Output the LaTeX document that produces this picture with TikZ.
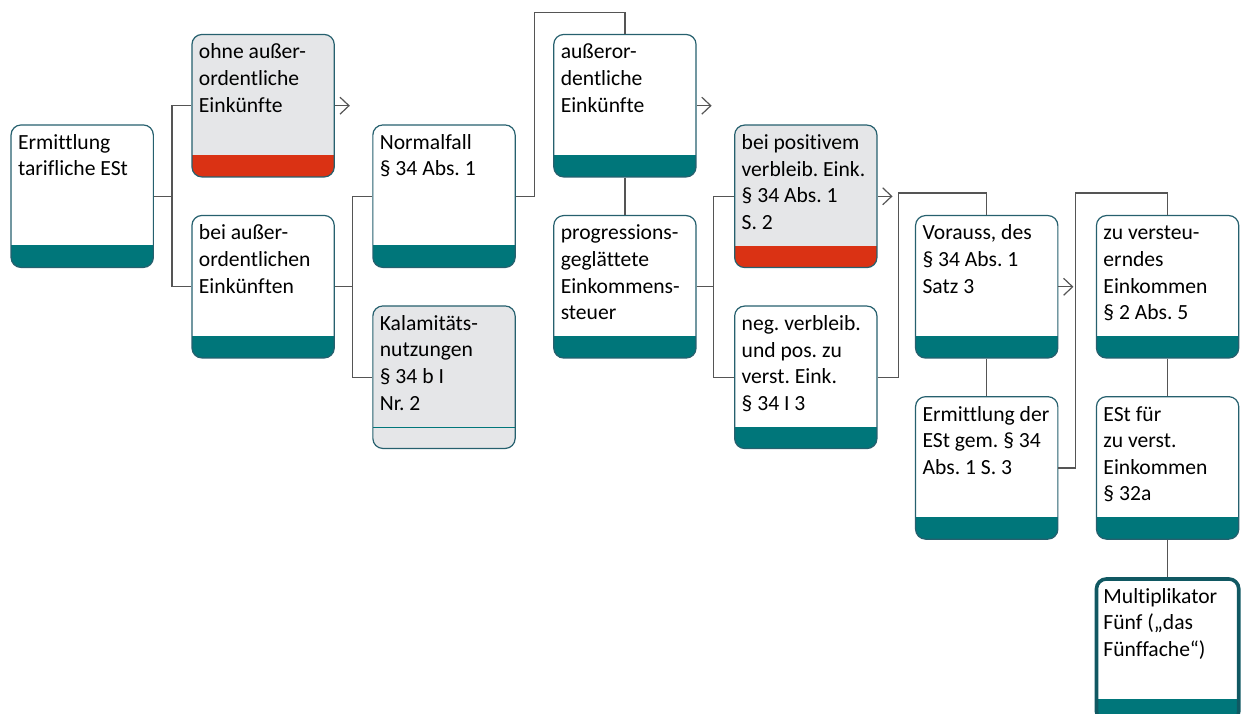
\documentclass[tikz,border=0pt]{standalone}
\usepackage{fontspec}
\setmainfont[Ligatures=NoCommon]{Carlito}
\usetikzlibrary{arrows.meta, positioning}
\frenchspacing

\definecolor{bandteal}{RGB}{0,118,122}
\definecolor{bandred}{RGB}{218,50,20}
\definecolor{boxgray}{RGB}{229,230,232}
\definecolor{boxline}{RGB}{38,96,110}
\definecolor{multline}{RGB}{16,88,98}
\definecolor{connline}{RGB}{85,85,85}

\begin{document}
\begin{tikzpicture}[
    textnode/.style={rectangle, rounded corners=5pt, draw=boxline, line width=0.6pt, fill=white,
        minimum width=71.15pt, minimum height=71.25pt, inner xsep=3.5pt, inner ysep=2.9pt,
        font=\fontsize{10.8}{13.3}\selectfont,
        execute at begin node={\begin{minipage}[t][65.45pt][t]{64.15pt}\raggedright\strut},
        execute at end node={\end{minipage}}},
    tealnode/.style={textnode, path picture={\fill[bandteal, sharp corners] (path picture bounding box.south west) rectangle ([yshift=11pt]path picture bounding box.south east);}},
    rednode/.style={textnode, fill=boxgray, path picture={\fill[bandred, sharp corners] (path picture bounding box.south west) rectangle ([yshift=11pt]path picture bounding box.south east);}},
    graynode/.style={textnode, fill=boxgray, path picture={\draw[bandteal, sharp corners, line width=0.6pt] ([yshift=10.5pt]path picture bounding box.south west) -- ([yshift=10.5pt]path picture bounding box.south east);}},
    multnode/.style={tealnode, draw=multline, line width=1.8pt},
    conn/.style={draw=connline, line width=0.6pt},
    arr/.style={conn, -{Straight Barb[length=4.5pt, width=8.5pt]}},
    node distance=18.7pt
]
\useasboundingbox (0,0) rectangle (620.5pt,-356.5pt);

% Nodes
\node[tealnode]  (erm)   at (41.1pt,-98.1pt)                 {Ermittlung\\tarifliche ESt};
\node[rednode]   (ohne)  [right=of erm, yshift=45.25pt]      {ohne außer-\\ordentliche\\Einkünfte};
\node[tealnode]  (bei)   [right=of erm, yshift=-45.25pt]     {bei außer-\\ordentlichen\\Einkünften};
\node[tealnode]  (norm)  [right=of bei, yshift=45.25pt]      {Normalfall\\§ 34 Abs. 1};
\node[graynode]  (kal)   [right=of bei, yshift=-45.25pt]     {Kalamitäts-\\nutzungen\\§ 34 b I\\Nr. 2};
\node[tealnode]  (auss)  [right=of norm, yshift=45.25pt]     {außeror-\\dentliche\\Einkünfte};
\node[tealnode]  (prog)  [below=of auss]                     {progressions-\\geglättete\\Einkommens-\\steuer};
\node[rednode]   (pos)   [right=of prog, yshift=45.25pt]     {bei positivem\\verbleib. Eink.\\§ 34 Abs. 1\\S. 2};
\node[tealnode]  (neg)   [right=of prog, yshift=-45.25pt]    {neg. verbleib.\\und pos. zu\\verst. Eink.\\§ 34 I 3};
\node[tealnode]  (vor)   [right=of neg, yshift=45.25pt]      {Vorauss, des\\§ 34 Abs. 1\\Satz 3};
\node[tealnode]  (ermd)  [below=of vor]                      {Ermittlung der\\ESt gem. § 34\\Abs. 1 S. 3};
\node[tealnode]  (zu)    [right=of vor]                      {zu versteu-\\erndes\\Einkommen\\§ 2 Abs. 5};
\node[tealnode]  (est)   [below=of zu]                       {ESt für\\zu verst.\\Einkommen\\§ 32a};
\node[multnode]  (mult)  [below=of est]                      {Multiplikator\\Fünf („das\\Fünffache“)};

% Arrow ends
\coordinate[right=7.5pt of ohne.east] (ohneTip);
\coordinate[right=7.5pt of auss.east] (aussTip);
\coordinate[right=7.5pt of pos.east]  (posTip);
\coordinate[right=7.5pt of vor.east]  (vorTip);

% Connectors
\draw[conn] (erm.east) -- ++(9pt,0) |- (ohne.west);
\draw[conn] (erm.east) -- ++(9pt,0) |- (bei.west);
\draw[conn] (bei.east) -- ++(9pt,0) |- (norm.west);
\draw[conn] (bei.east) -- ++(9pt,0) |- (kal.west);
\draw[conn] (norm.east) -- ++(9.5pt,0) |- ([yshift=10.5pt]auss.north) -- (auss.north);
\draw[conn] (auss) -- (prog);
\draw[conn] (prog.east) -- ++(8.5pt,0) |- (pos.west);
\draw[conn] (prog.east) -- ++(8.5pt,0) |- (neg.west);
\draw[conn] (neg.east) -- ++(10.5pt,0) |- ([yshift=11pt]vor.north) -- (vor.north);
\draw[conn] (vor) -- (ermd);
\draw[conn] (ermd.east) -- ++(8.5pt,0) |- ([yshift=11pt]zu.north) -- (zu.north);
\draw[conn] (zu) -- (est);
\draw[conn] (est) -- (mult);

\draw[arr] (ohne.east) -- (ohneTip);
\draw[arr] (auss.east) -- (aussTip);
\draw[arr] (pos.east) -- (posTip);
\draw[arr] (vor.east) -- (vorTip);

\end{tikzpicture}
\end{document}
